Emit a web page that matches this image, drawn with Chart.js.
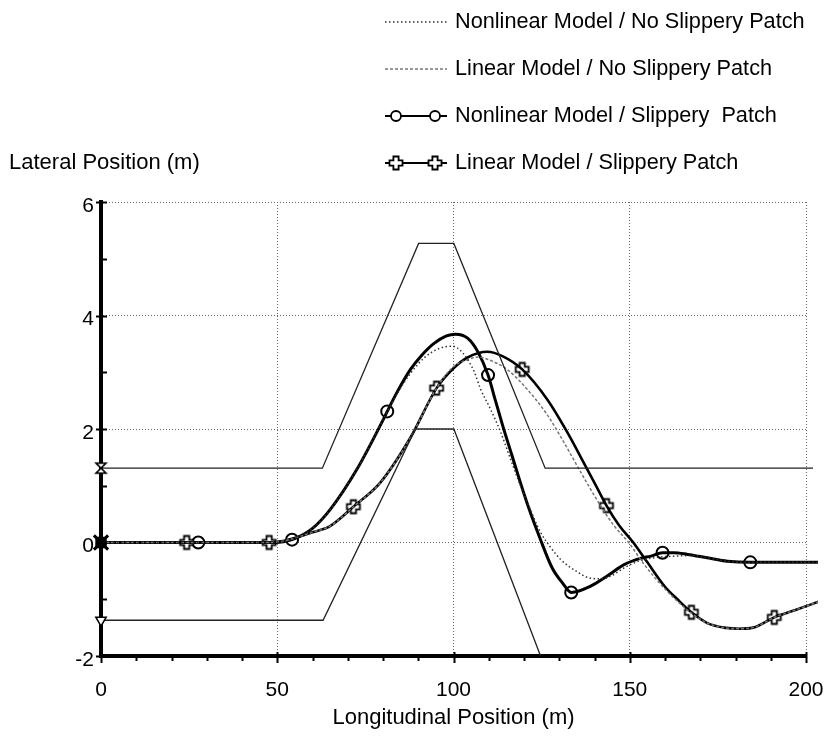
<!DOCTYPE html>
<html>
<head>
<meta charset="utf-8">
<script src="https://cdn.jsdelivr.net/npm/chart.js@4.4.1/dist/chart.umd.min.js"></script>
<style>
  html, body { margin: 0; padding: 0; background: #fff; }
  #wrap { width: 827px; height: 736px; }
</style>
</head>
<body>
<div id="wrap"><canvas id="chart" width="827" height="736"></canvas></div>
<script>
// longitudinal position (m) / lateral position (m)
let nlSlipX = [0, 27.6, 50, 54.2, 60, 65, 72.6, 80.1, 81.2, 84, 87.8, 91, 94.3, 98, 100.6, 104, 107, 109.8, 111.9, 114, 116.5, 119, 121.5, 124.5, 128, 131, 133.4, 138.9, 143.6, 148.4, 153, 156, 159.3, 162.6, 166.4, 172, 177.7, 184.2, 203.7];
let nlSlipY = [0, 0, 0, 0.05, 0.25, 0.58, 1.29, 2.17, 2.31, 2.65, 3.05, 3.3, 3.5, 3.64, 3.67, 3.6, 3.35, 2.95, 2.5, 2.05, 1.55, 1.05, 0.58, 0.08, -0.45, -0.72, -0.88, -0.77, -0.59, -0.39, -0.28, -0.24, -0.18, -0.18, -0.21, -0.27, -0.33, -0.35, -0.35];

let linSlipX = [0, 24.3, 47.7, 52, 55.6, 60, 65, 71.6, 79.3, 87.8, 95.2, 100, 104, 109.6, 114, 119.5, 126.6, 132.3, 137, 140, 143.4, 147, 151, 155, 160, 163.5, 167.5, 172, 176.7, 181, 185, 191, 197, 203.7];
let linSlipY = [0, 0, 0, 0.03, 0.09, 0.18, 0.29, 0.63, 1.06, 1.85, 2.72, 3.07, 3.26, 3.36, 3.28, 3.05, 2.52, 1.94, 1.4, 1.05, 0.65, 0.3, 0, -0.35, -0.78, -1.0, -1.23, -1.42, -1.5, -1.52, -1.5, -1.32, -1.19, -1.04];

let nlNoSlipX = [0, 50, 54.2, 60, 65, 72.6, 80.1, 84, 87.8, 92, 96, 99.5, 102.5, 105.8, 107.7, 110.5, 113.4, 116, 118.5, 121, 124.7, 127.6, 130.4, 134.2, 138.9, 142, 145, 148.3, 153, 158, 163, 168, 172, 177.7, 184.2, 203.7];
let nlNoSlipY = [0, 0, 0.05, 0.25, 0.58, 1.29, 2.17, 2.62, 2.98, 3.27, 3.42, 3.46, 3.35, 3.02, 2.7, 2.35, 1.94, 1.5, 1.08, 0.7, 0.18, -0.09, -0.3, -0.48, -0.63, -0.64, -0.58, -0.45, -0.32, -0.26, -0.24, -0.23, -0.27, -0.33, -0.35, -0.35];

let linNoSlipX = [0, 47.7, 52, 55.6, 60, 65, 71.6, 79.3, 87.8, 95.2, 100, 103.9, 107, 110, 115.2, 120.9, 126.6, 131, 136, 141, 145.5, 149.7, 154, 160, 167, 172, 176.7, 181, 185, 191, 197, 203.7];
let linNoSlipY = [0, 0, 0.03, 0.09, 0.18, 0.29, 0.63, 1.06, 1.85, 2.72, 3.1, 3.22, 3.27, 3.22, 3.05, 2.7, 2.25, 1.8, 1.25, 0.72, 0.3, 0, -0.38, -0.82, -1.22, -1.42, -1.5, -1.52, -1.5, -1.32, -1.19, -1.04];

// road edges
let upperX = [0, 62.8, 90.1, 100.1, 126, 202];
let upperY = [1.31, 1.31, 5.27, 5.27, 1.31, 1.31];
let lowerX = [0, 63, 89.2, 100.1, 124.7];
let lowerY = [-1.37, -1.37, 2.0, 2.0, -2.0];

// symbols placed along the slippery patch runs
let circleX = [27.6, 54.2, 81.2, 109.8, 133.4, 159.3, 184.2];
let circleY = [0, 0.05, 2.31, 2.95, -0.88, -0.18, -0.35];
let plusX = [24.3, 47.7, 71.6, 95.2, 119.5, 143.4, 167.5, 191];
let plusY = [0, 0, 0.63, 2.72, 3.05, 0.65, -1.23, -1.32];

let xTicks = [0, 50, 100, 150, 200];
let yTicks = [-2, 0, 2, 4, 6];

let legendLabels = [
    'Nonlinear Model / No Slippery Patch',
    'Linear Model / No Slippery Patch',
    'Nonlinear Model / Slippery  Patch',
    'Linear Model / Slippery Patch'
];
let xTitle = 'Longitudinal Position (m)';
let yTitle = 'Lateral Position (m)';

let font = '"Liberation Sans", Arial, Helvetica, sans-serif';

function pts(xs, ys) {
    return xs.map((x, i) => ({ x: x, y: ys[i] }));
}

function makeIcon(size, draw) {
    let cv = document.createElement('canvas');
    cv.width = size; cv.height = size;
    draw(cv.getContext('2d'), size / 2);
    return cv;
}

// hollow plus sign
function plusPath(g, cx, cy, a, w) {
    g.beginPath();
    g.moveTo(cx - w, cy - a); g.lineTo(cx + w, cy - a); g.lineTo(cx + w, cy - w);
    g.lineTo(cx + a, cy - w); g.lineTo(cx + a, cy + w); g.lineTo(cx + w, cy + w);
    g.lineTo(cx + w, cy + a); g.lineTo(cx - w, cy + a); g.lineTo(cx - w, cy + w);
    g.lineTo(cx - a, cy + w); g.lineTo(cx - a, cy - w); g.lineTo(cx - w, cy - w);
    g.closePath();
}
let plusIcon = makeIcon(18, (g, c) => {
    plusPath(g, c, c, 6.5, 2.6);
    g.fillStyle = '#fff'; g.fill();
    g.lineWidth = 1.8; g.strokeStyle = '#000'; g.stroke();
});
let hourIcon = makeIcon(16, (g, c) => {
    g.beginPath();
    g.moveTo(c - 5, c - 5); g.lineTo(c + 5, c - 5); g.lineTo(c - 5, c + 5); g.lineTo(c + 5, c + 5);
    g.closePath();
    g.fillStyle = '#fff'; g.fill();
    g.lineWidth = 1.6; g.strokeStyle = '#000'; g.stroke();
});

let clipBox = { left: 12, top: 10, right: 12, bottom: 2 };

// only the first point of an edge/curve carries a symbol
function firstOnly(r) {
    return (ctx) => ctx.dataIndex === 0 ? r : 0;
}

let extras = {
    id: 'extras',
    afterDraw(chart) {
        let c = chart.ctx, xs = chart.scales.x, ys = chart.scales.y;
        c.save();
        // tick marks
        c.strokeStyle = '#000';
        c.lineWidth = 2;
        for (let v = 0; v <= 200; v += 10) {
            let px = Math.round(xs.getPixelForValue(v)) + 0.5;
            let major = v % 50 === 0;
            c.beginPath();
            c.moveTo(px, ys.bottom - (major ? 4 : 0));
            c.lineTo(px, ys.bottom + (major ? 7 : 5));
            c.stroke();
        }
        for (let v = -2; v <= 6; v++) {
            let py = Math.round(ys.getPixelForValue(v)) + 0.5;
            let major = v % 2 === 0;
            c.beginPath();
            c.moveTo(xs.left - (major ? 5 : 0), py);
            c.lineTo(xs.left + 6, py);
            c.stroke();
        }
        // y axis title
        c.fillStyle = '#000';
        c.font = '22px ' + font;
        c.textAlign = 'left';
        c.textBaseline = 'middle';
        c.fillText(yTitle, 9, 163);

        // legend
        let rows = [22, 69, 116, 163];
        let x0 = 385, x1 = 447, tx = 455;
        c.font = '21.7px ' + font;
        rows.forEach((y, i) => {
            c.save();
            c.strokeStyle = '#000';
            if (i === 0) {
                c.lineWidth = 1.4; c.strokeStyle = '#333'; c.setLineDash([1.5, 2.5]);
            } else if (i === 1) {
                c.lineWidth = 1.4; c.strokeStyle = '#777'; c.setLineDash([3, 2]);
            } else {
                c.lineWidth = 2;
            }
            c.beginPath(); c.moveTo(x0, y); c.lineTo(x1, y); c.stroke();
            c.setLineDash([]);
            if (i === 2) {
                [396, 435].forEach(mx => {
                    c.beginPath(); c.arc(mx, y, 5, 0, Math.PI * 2);
                    c.fillStyle = '#fff'; c.fill();
                    c.lineWidth = 1.8; c.strokeStyle = '#000'; c.stroke();
                });
            }
            if (i === 3) {
                [396, 435].forEach(mx => c.drawImage(plusIcon, mx - 9, y - 9));
            }
            c.restore();
            c.fillStyle = '#000';
            c.fillText(legendLabels[i], tx, y);
        });
        c.restore();
    }
};

let ctx = document.getElementById('chart').getContext('2d');

let chart = new Chart(ctx, {
    type: 'scatter',
    data: {
        datasets: [
            {
                label: 'upper edge',
                data: pts(upperX, upperY),
                showLine: true,
                borderColor: '#222',
                borderWidth: 1.3,
                pointRadius: firstOnly(7),
                pointStyle: hourIcon,
                clip: clipBox
            },
            {
                label: 'lower edge',
                data: pts(lowerX, lowerY),
                showLine: true,
                borderColor: '#222',
                borderWidth: 1.3,
                pointRadius: firstOnly(6),
                pointStyle: 'triangle',
                rotation: 180,
                pointBackgroundColor: '#fff',
                pointBorderColor: '#000',
                pointBorderWidth: 1.5,
                clip: clipBox
            },
            {
                label: legendLabels[0],
                data: pts(nlNoSlipX, nlNoSlipY),
                showLine: true,
                borderColor: '#333',
                borderWidth: 1.5,
                borderDash: [1.5, 2.5],
                cubicInterpolationMode: 'monotone',
                pointRadius: firstOnly(7),
                pointStyle: 'rect',
                pointBackgroundColor: '#000',
                pointBorderColor: '#000',
                clip: clipBox
            },
            {
                label: legendLabels[1],
                data: pts(linNoSlipX, linNoSlipY),
                showLine: true,
                borderColor: '#777',
                borderWidth: 1.5,
                borderDash: [3, 2],
                cubicInterpolationMode: 'monotone',
                pointRadius: firstOnly(10),
                pointStyle: 'crossRot',
                pointBorderColor: '#000',
                pointBorderWidth: 3,
                clip: clipBox
            },
            {
                label: legendLabels[3],
                data: pts(linSlipX, linSlipY),
                showLine: true,
                borderColor: '#000',
                borderWidth: 2.6,
                cubicInterpolationMode: 'monotone',
                pointRadius: 0,
                clip: clipBox
            },
            {
                label: legendLabels[2],
                data: pts(nlSlipX, nlSlipY),
                showLine: true,
                borderColor: '#000',
                borderWidth: 3,
                cubicInterpolationMode: 'monotone',
                pointRadius: 0,
                clip: clipBox
            },
            {
                label: 'plus symbols',
                data: pts(plusX, plusY),
                showLine: false,
                pointStyle: plusIcon,
                pointRadius: 7,
                clip: clipBox
            },
            {
                label: 'circle symbols',
                data: pts(circleX, circleY),
                showLine: false,
                pointStyle: 'circle',
                pointRadius: 6,
                pointBackgroundColor: '#fff',
                pointBorderColor: '#000',
                pointBorderWidth: 2,
                clip: clipBox
            }
        ]
    },
    options: {
        responsive: false,
        animation: false,
        events: [],
        layout: { padding: { top: 202, right: 21, left: 0, bottom: 0 } },
        plugins: {
            legend: { display: false },
            tooltip: { enabled: false }
        },
        scales: {
            x: {
                type: 'linear',
                min: 0,
                max: 200,
                afterFit: (s) => { s.height = 80; },
                afterBuildTicks: (s) => {
                    let t = [];
                    for (let v = 0; v <= 200; v += 10) t.push({ value: v });
                    s.ticks = t;
                },
                ticks: {
                    autoSkip: false,
                    maxRotation: 0,
                    padding: 2,
                    color: '#000',
                    font: { family: font, size: 21 },
                    callback: (v) => xTicks.includes(v) ? String(v) : ''
                },
                grid: {
                    drawTicks: true,
                    tickLength: 20,
                    tickColor: 'rgba(0,0,0,0)',
                    lineWidth: 1,
                    color: (c) => (c.tick && c.tick.value % 50 === 0 && c.tick.value !== 0) ? '#666' : 'rgba(0,0,0,0)'
                },
                border: { display: true, color: '#000', width: 4, dash: [1, 2] },
                title: {
                    display: true,
                    text: xTitle,
                    color: '#000',
                    font: { family: font, size: 22 },
                    padding: { top: 0, bottom: 5 }
                }
            },
            y: {
                type: 'linear',
                min: -2,
                max: 6,
                afterFit: (s) => { s.width = 101; },
                afterBuildTicks: (s) => {
                    let t = [];
                    for (let v = -2; v <= 6; v++) t.push({ value: v });
                    s.ticks = t;
                },
                ticks: {
                    autoSkip: false,
                    padding: 7,
                    labelOffset: 4,
                    color: '#000',
                    font: { family: font, size: 21 },
                    callback: (v) => yTicks.includes(v) ? String(v) : ''
                },
                grid: {
                    drawTicks: false,
                    lineWidth: 1,
                    color: (c) => (c.tick && yTicks.includes(c.tick.value) && c.tick.value !== -2) ? '#666' : 'rgba(0,0,0,0)'
                },
                border: { display: true, color: '#000', width: 4, dash: [1, 2] }
            }
        }
    },
    plugins: [extras]
});
</script>
</body>
</html>
